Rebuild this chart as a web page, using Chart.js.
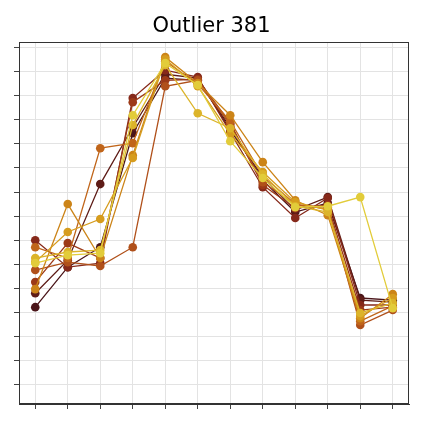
<!DOCTYPE html>
<html>
<head>
<meta charset="utf-8">
<script src="https://cdn.jsdelivr.net/npm/chart.js@4/dist/chart.umd.min.js"></script>
<style>
html,body{margin:0;padding:0;background:#fff;}
#wrap{width:423px;height:423px;}
</style>
</head>
<body>
<div id="wrap"><canvas id="c" width="423" height="423"></canvas></div>
<script>
const categories = ['1','2','3','4','5','6','7','8','9','10','11','12'];

const s0 = [3.22, 4.88, 5.71, 10.44, 12.73, 12.64, 10.69, 8.49, 7.17, 7.54, 3.60, 3.51];
const s1 = [3.80, 5.17, 8.33, 10.69, 12.89, 12.73, 10.57, 8.62, 7.25, 7.79, 3.51, 3.43];
const s2 = [6.00, 4.88, 5.05, 11.90, 13.06, 12.77, 10.48, 8.20, 6.92, 7.75, 3.31, 3.31];
const s3 = [4.26, 5.88, 5.26, 11.73, 12.64, 12.68, 10.86, 8.29, 7.33, 7.46, 3.10, 3.22];
const s4 = [4.76, 5.09, 4.93, 5.71, 12.39, 12.64, 10.78, 8.41, 7.46, 7.37, 2.48, 3.10];
const s5 = [5.71, 5.26, 9.82, 10.03, 13.43, 12.48, 10.94, 8.66, 7.50, 7.29, 2.64, 3.27];
const s6 = [3.97, 7.50, 5.26, 9.53, 13.60, 12.52, 11.19, 9.24, 7.66, 7.04, 2.76, 3.76];
const s7 = [5.09, 6.34, 6.88, 9.41, 13.51, 12.39, 10.40, 8.83, 7.58, 7.25, 2.85, 3.60];
const s8 = [5.26, 5.51, 5.59, 10.78, 13.27, 11.27, 10.65, 8.74, 7.41, 7.17, 2.98, 3.39];
const s9 = [5.05, 5.38, 5.46, 11.19, 13.35, 12.44, 10.11, 8.58, 7.37, 7.41, 7.79, 3.18];

const seriesValues = [s0, s1, s2, s3, s4, s5, s6, s7, s8, s9];
const seriesColors = ['#4a1519', '#5e1c17', '#86291a', '#9c3a18', '#b0501a', '#c0651a', '#cc8418', '#d69c1e', '#dcb42a', '#e2cc3a'];

const yTicks = [0,1,2,3,4,5,6,7,8,9,10,11,12,13,14];

const datasets = seriesValues.map((vals, i) => ({
  label: 'S' + i,
  data: vals,
  borderColor: seriesColors[i],
  backgroundColor: seriesColors[i],
  pointBackgroundColor: seriesColors[i],
  pointBorderColor: seriesColors[i],
  borderWidth: 1.3,
  pointRadius: 4.3,
  pointBorderWidth: 0,
  tension: 0,
  fill: false
})).reverse();

const frame = {
  id: 'frame',
  afterDraw(chart) {
    const a = chart.chartArea, ctx = chart.ctx;
    ctx.save();
    ctx.strokeStyle = '#333';
    ctx.lineWidth = 1;
    ctx.strokeRect(Math.round(a.left) + 0.5, Math.round(a.top) + 0.5, Math.round(a.right - a.left) - 1, Math.round(a.bottom - a.top) - 1);
    ctx.restore();
  }
};

new Chart(document.getElementById('c'), {
  type: 'line',
  data: { labels: categories, datasets },
  plugins: [frame],
  options: {
    responsive: false,
    animation: false,
    layout: { padding: { left: 14, right: 14, bottom: 14, top: 0 } },
    plugins: {
      legend: { display: false },
      tooltip: { enabled: false },
      title: {
        display: true,
        text: 'Outlier 381',
        color: '#000',
        font: { family: 'DejaVu Sans', size: 21, weight: 'normal' },
        padding: { top: 14, bottom: 3 }
      }
    },
    scales: {
      x: {
        type: 'category',
        offset: true,
        grid: { color: '#e3e3e3', lineWidth: 1, offset: false, drawTicks: true, tickLength: 5, tickColor: '#444' },
        border: { display: true, color: '#333', width: 1 },
        ticks: { display: false }
      },
      y: {
        type: 'linear',
        min: -0.8,
        max: 14.22,
        afterBuildTicks(scale) { scale.ticks = yTicks.map(v => ({ value: v })); },
        grid: { color: '#e3e3e3', lineWidth: 1, drawTicks: true, tickLength: 5, tickColor: '#444' },
        border: { display: true, color: '#333', width: 1 },
        ticks: { display: false }
      }
    }
  }
});
</script>
</body>
</html>
